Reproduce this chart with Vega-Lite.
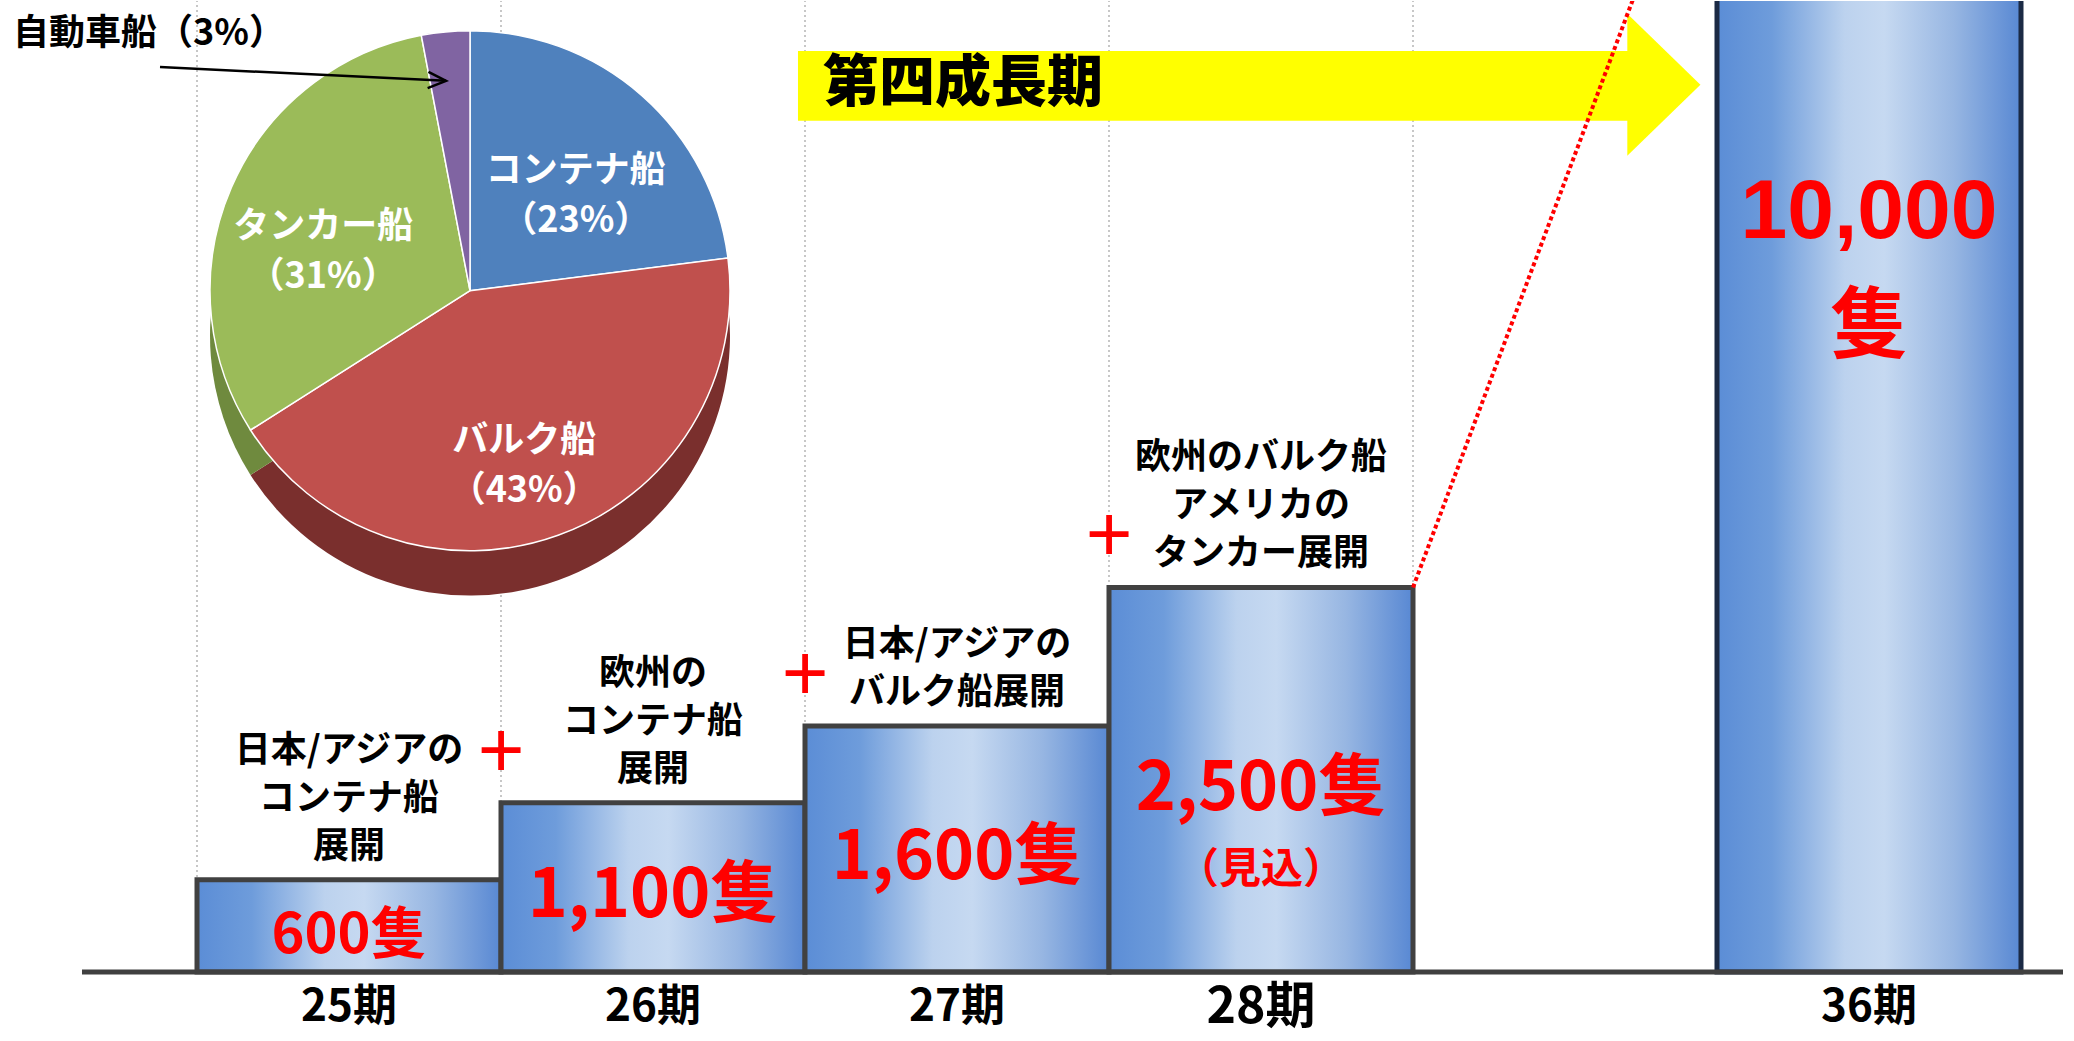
{
  "$schema": "https://vega.github.io/schema/vega-lite/v6.json",
  "width": 2074,
  "height": 1041,
  "autosize": {"type": "fit", "contains": "padding"},
  "padding": 0,
  "background": "#ffffff",
  "config": {"view": {"stroke": null}},
  "datasets": {
    "periods": [
      {"period": "25期", "ships": 600, "count": "600隻", "note": "日本/アジアの\nコンテナ船\n展開"},
      {"period": "26期", "ships": 1100, "count": "1,100隻", "note": "欧州の\nコンテナ船\n展開", "plus": "+"},
      {"period": "27期", "ships": 1600, "count": "1,600隻", "note": "日本/アジアの\nバルク船展開", "plus": "+"},
      {"period": "28期", "ships": 2500, "count": "2,500隻", "sub": "（見込）", "note": "欧州のバルク船\nアメリカの\nタンカー展開", "plus": "+"},
      {"period": "36期", "ships": 10000, "count": "10,000", "sub": "隻"}
    ],
    "fleet": [
      {"name": "コンテナ船", "share": 23, "idx": 1, "inner": "コンテナ船\n（23%）"},
      {"name": "バルク船", "share": 43, "idx": 2, "inner": "バルク船\n（43%）"},
      {"name": "タンカー船", "share": 31, "idx": 3, "inner": "タンカー船\n（31%）"},
      {"name": "自動車船", "share": 3, "idx": 4, "inner": "", "outer": "自動車船（3%）"}
    ]
  },
  "resolve": {"scale": {"x": "independent"}},
  "layer": [
    {
      "data": {"name": "periods"},
      "layer": [
        {
          "mark": {"type": "rule", "color": "#b5b5b5", "strokeDash": [2, 3], "strokeWidth": 1.5},
          "encoding": {
            "x": {"field": "period", "type": "nominal", "bandPosition": 0, "axis": null,
              "scale": {"type": "band", "domain": ["25期", "26期", "27期", "28期", "gap", "36期"], "paddingInner": 0, "paddingOuter": 0.4112, "align": 0.788}},
            "y": {"datum": 0, "type": "quantitative", "scale": {"domain": [-448, 6312], "nice": false, "zero": false}, "axis": null},
            "y2": {"datum": 6312}
          }
        },
        {
          "data": {"values": [{"period": "gap"}]},
          "mark": {"type": "rule", "color": "#b5b5b5", "strokeDash": [2, 3], "strokeWidth": 1.5},
          "encoding": {
            "x": {"field": "period", "type": "nominal", "bandPosition": 0, "axis": null,
              "scale": {"type": "band", "domain": ["25期", "26期", "27期", "28期", "gap", "36期"], "paddingInner": 0, "paddingOuter": 0.4112, "align": 0.788}},
            "y": {"datum": 0, "type": "quantitative", "scale": {"domain": [-448, 6312], "nice": false, "zero": false}, "axis": null},
            "y2": {"datum": 6312}
          }
        },
        {
          "mark": {
            "type": "bar", "clip": true, "strokeWidth": 5,
            "fill": {"gradient": "linear", "x1": 0, "y1": 0, "x2": 1, "y2": 0,
              "stops": [
                {"offset": 0, "color": "#5b8dd6"},
                {"offset": 0.18, "color": "#6e9cdb"},
                {"offset": 0.42, "color": "#bcd2ee"},
                {"offset": 0.55, "color": "#c6d9f1"},
                {"offset": 0.78, "color": "#97b6e2"},
                {"offset": 1, "color": "#5888d3"}
              ]}
          },
          "encoding": {
            "x": {"field": "period", "type": "nominal", "axis": null,
              "scale": {"type": "band", "domain": ["25期", "26期", "27期", "28期", "gap", "36期"], "paddingInner": 0, "paddingOuter": 0.4112, "align": 0.788}},
            "y": {"field": "ships", "type": "quantitative", "scale": {"domain": [-448, 6312], "nice": false, "zero": false}, "axis": null},
            "y2": {"datum": 0},
            "stroke": {"condition": {"test": "datum.period === '36期'", "value": "#1b2a45"}, "value": "#414141"}
          }
        },
        {
          "transform": [{"filter": "isValid(datum.note)"}],
          "mark": {"type": "text", "font": "Noto Sans CJK JP", "fontWeight": "bold", "fontSize": 36, "lineHeight": 48, "lineBreak": "\n", "baseline": "bottom", "color": "#000000",
            "dy": {"expr": "-14 - 48 * (length(split(datum.note, '\\n')) - 1)"}},
          "encoding": {
            "x": {"field": "period", "type": "nominal", "axis": null,
              "scale": {"type": "band", "domain": ["25期", "26期", "27期", "28期", "gap", "36期"], "paddingInner": 0, "paddingOuter": 0.4112, "align": 0.788}},
            "y": {"field": "ships", "type": "quantitative", "scale": {"domain": [-448, 6312], "nice": false, "zero": false}, "axis": null},
            "text": {"field": "note"}
          }
        },
        {
          "transform": [{"filter": "isValid(datum.plus)"}],
          "mark": {"type": "text", "font": "Liberation Sans", "fontSize": 80, "color": "#ff0000", "baseline": "middle", "dy": -50},
          "encoding": {
            "x": {"field": "period", "type": "nominal", "bandPosition": 0, "axis": null,
              "scale": {"type": "band", "domain": ["25期", "26期", "27期", "28期", "gap", "36期"], "paddingInner": 0, "paddingOuter": 0.4112, "align": 0.788}},
            "y": {"field": "ships", "type": "quantitative", "scale": {"domain": [-448, 6312], "nice": false, "zero": false}, "axis": null},
            "text": {"field": "plus"}
          }
        },
        {
          "transform": [{"filter": "datum.period !== '36期'"}, {"calculate": "datum.ships / 2", "as": "mid"}],
          "mark": {"type": "text", "font": "Noto Sans CJK JP", "fontWeight": "bold", "color": "#ff0000", "baseline": "middle", "dy": 10},
          "encoding": {
            "x": {"field": "period", "type": "nominal", "axis": null,
              "scale": {"type": "band", "domain": ["25期", "26期", "27期", "28期", "gap", "36期"], "paddingInner": 0, "paddingOuter": 0.4112, "align": 0.788}},
            "y": {"field": "mid", "type": "quantitative", "scale": {"domain": [-448, 6312], "nice": false, "zero": false}, "axis": null},
            "text": {"field": "count"},
            "size": {"condition": {"test": "datum.period === '25期'", "value": 56}, "value": 68}
          }
        },
        {
          "transform": [{"filter": "datum.period === '28期'"}, {"calculate": "datum.ships / 2", "as": "mid"}],
          "mark": {"type": "text", "font": "Noto Sans CJK JP", "fontWeight": "bold", "fontSize": 42, "color": "#ff0000", "baseline": "middle", "dy": 90},
          "encoding": {
            "x": {"field": "period", "type": "nominal", "axis": null,
              "scale": {"type": "band", "domain": ["25期", "26期", "27期", "28期", "gap", "36期"], "paddingInner": 0, "paddingOuter": 0.4112, "align": 0.788}},
            "y": {"field": "mid", "type": "quantitative", "scale": {"domain": [-448, 6312], "nice": false, "zero": false}, "axis": null},
            "text": {"field": "sub"}
          }
        },
        {
          "transform": [{"filter": "datum.period === '36期'"}],
          "mark": {"type": "text", "font": "Liberation Sans", "fontWeight": "bold", "fontSize": 84, "color": "#ff0000", "baseline": "middle"},
          "encoding": {
            "x": {"field": "period", "type": "nominal", "axis": null,
              "scale": {"type": "band", "domain": ["25期", "26期", "27期", "28期", "gap", "36期"], "paddingInner": 0, "paddingOuter": 0.4112, "align": 0.788}},
            "y": {"datum": 4935, "type": "quantitative", "scale": {"domain": [-448, 6312], "nice": false, "zero": false}, "axis": null},
            "text": {"field": "count"}
          }
        },
        {
          "transform": [{"filter": "datum.period === '36期'"}],
          "mark": {"type": "text", "font": "Noto Sans CJK JP", "fontWeight": "bold", "fontSize": 78, "color": "#ff0000", "baseline": "middle"},
          "encoding": {
            "x": {"field": "period", "type": "nominal", "axis": null,
              "scale": {"type": "band", "domain": ["25期", "26期", "27期", "28期", "gap", "36期"], "paddingInner": 0, "paddingOuter": 0.4112, "align": 0.788}},
            "y": {"datum": 4180, "type": "quantitative", "scale": {"domain": [-448, 6312], "nice": false, "zero": false}, "axis": null},
            "text": {"field": "sub"}
          }
        },
        {
          "mark": {"type": "text", "font": "Noto Sans CJK JP", "fontWeight": "bold", "color": "#000000", "baseline": "middle"},
          "encoding": {
            "x": {"field": "period", "type": "nominal", "axis": null,
              "scale": {"type": "band", "domain": ["25期", "26期", "27期", "28期", "gap", "36期"], "paddingInner": 0, "paddingOuter": 0.4112, "align": 0.788}},
            "y": {"datum": -235, "type": "quantitative", "scale": {"domain": [-448, 6312], "nice": false, "zero": false}, "axis": null},
            "text": {"field": "period"},
            "size": {"condition": {"test": "datum.period === '28期'", "value": 50}, "value": 44}
          }
        }
      ]
    },
    {
      "layer": [
        {
          "data": {"values": [{}]},
          "mark": {"type": "rule", "color": "#404040", "strokeWidth": 5},
          "encoding": {
            "x": {"datum": -0.373, "type": "quantitative", "scale": {"domain": [-0.6436, 6.2013], "nice": false, "zero": false}, "axis": null},
            "x2": {"datum": 6.165},
            "y": {"datum": 0, "type": "quantitative", "scale": {"domain": [-448, 6312], "nice": false, "zero": false}, "axis": null}
          }
        },
        {
          "data": {"name": "fleet"},
          "mark": {"type": "arc", "outerRadius": 260},
          "encoding": {
            "theta": {"field": "share", "type": "quantitative", "stack": true},
            "order": {"field": "idx", "type": "quantitative"},
            "fill": {"field": "name", "type": "nominal", "legend": null,
              "scale": {"domain": ["コンテナ船", "バルク船", "タンカー船", "自動車船"], "range": ["#3a5f8c", "#7a2f2d", "#6f8a3e", "#5b4775"]}},
            "x": {"datum": 0.9076, "type": "quantitative", "scale": {"domain": [-0.6436, 6.2013], "nice": false, "zero": false}, "axis": null},
            "y": {"datum": 4137, "type": "quantitative", "scale": {"domain": [-448, 6312], "nice": false, "zero": false}, "axis": null}
          }
        },
        {
          "data": {"name": "fleet"},
          "mark": {"type": "arc", "outerRadius": 260, "stroke": "#ffffff", "strokeWidth": 1.5},
          "encoding": {
            "theta": {"field": "share", "type": "quantitative", "stack": true},
            "order": {"field": "idx", "type": "quantitative"},
            "color": {"field": "name", "type": "nominal", "legend": null,
              "scale": {"domain": ["コンテナ船", "バルク船", "タンカー船", "自動車船"], "range": ["#4f81bd", "#c0504d", "#9bbb59", "#8064a2"]}},
            "x": {"datum": 0.9076, "type": "quantitative", "scale": {"domain": [-0.6436, 6.2013], "nice": false, "zero": false}, "axis": null},
            "y": {"datum": 4429, "type": "quantitative", "scale": {"domain": [-448, 6312], "nice": false, "zero": false}, "axis": null}
          }
        },
        {
          "data": {"name": "fleet"},
          "mark": {"type": "text", "radius": 160, "font": "Noto Sans CJK JP", "fontWeight": "bold", "fontSize": 36, "lineHeight": 50, "lineBreak": "\n", "color": "#ffffff", "baseline": "middle"},
          "encoding": {
            "theta": {"field": "share", "type": "quantitative", "stack": true},
            "order": {"field": "idx", "type": "quantitative"},
            "text": {"field": "inner"},
            "x": {"datum": 0.9076, "type": "quantitative", "scale": {"domain": [-0.6436, 6.2013], "nice": false, "zero": false}, "axis": null},
            "y": {"datum": 4429, "type": "quantitative", "scale": {"domain": [-448, 6312], "nice": false, "zero": false}, "axis": null}
          }
        },
        {
          "data": {"name": "fleet"},
          "transform": [{"filter": "isValid(datum.outer)"}],
          "mark": {"type": "text", "align": "left", "baseline": "middle", "font": "Noto Sans CJK JP", "fontWeight": "bold", "fontSize": 36, "color": "#000000"},
          "encoding": {
            "text": {"field": "outer"},
            "x": {"datum": -0.6007, "type": "quantitative", "scale": {"domain": [-0.6436, 6.2013], "nice": false, "zero": false}, "axis": null},
            "y": {"datum": 6098, "type": "quantitative", "scale": {"domain": [-448, 6312], "nice": false, "zero": false}, "axis": null}
          }
        },
        {
          "data": {"values": [{}]},
          "mark": {"type": "rule", "color": "#000000", "strokeWidth": 2.5},
          "encoding": {
            "x": {"datum": -0.1155, "type": "quantitative", "scale": {"domain": [-0.6436, 6.2013], "nice": false, "zero": false}, "axis": null},
            "x2": {"datum": 0.8284},
            "y": {"datum": 5883, "type": "quantitative", "scale": {"domain": [-448, 6312], "nice": false, "zero": false}, "axis": null},
            "y2": {"datum": 5793}
          }
        },
        {
          "data": {"values": [{}]},
          "mark": {"type": "point", "shape": "M -2 -0.9 L 0 0 L -2 0.9", "filled": false, "size": 324, "color": "#000000", "strokeWidth": 2.5, "opacity": 1, "angle": 2.8},
          "encoding": {
            "x": {"datum": 0.8284, "type": "quantitative", "scale": {"domain": [-0.6436, 6.2013], "nice": false, "zero": false}, "axis": null},
            "y": {"datum": 5793, "type": "quantitative", "scale": {"domain": [-448, 6312], "nice": false, "zero": false}, "axis": null}
          }
        },
        {
          "data": {"values": [{}]},
          "mark": {"type": "rect", "color": "#ffff00"},
          "encoding": {
            "x": {"datum": 1.99, "type": "quantitative", "scale": {"domain": [-0.6436, 6.2013], "nice": false, "zero": false}, "axis": null},
            "x2": {"datum": 4.736},
            "y": {"datum": 5987, "type": "quantitative", "scale": {"domain": [-448, 6312], "nice": false, "zero": false}, "axis": null},
            "y2": {"datum": 5533}
          }
        },
        {
          "data": {"values": [{}]},
          "mark": {"type": "point", "shape": "M -0.51 -1 L 0.52 0 L -0.51 1 Z", "filled": true, "size": 20164, "color": "#ffff00", "opacity": 1, "strokeWidth": 0},
          "encoding": {
            "x": {"datum": 4.8465, "type": "quantitative", "scale": {"domain": [-0.6436, 6.2013], "nice": false, "zero": false}, "axis": null},
            "y": {"datum": 5767, "type": "quantitative", "scale": {"domain": [-448, 6312], "nice": false, "zero": false}, "axis": null}
          }
        },
        {
          "data": {"values": [{"phase": "第四成長期"}]},
          "mark": {"type": "text", "align": "left", "baseline": "middle", "font": "Noto Sans CJK JP", "fontWeight": 900, "fontSize": 56, "color": "#000000"},
          "encoding": {
            "text": {"field": "phase"},
            "x": {"datum": 2.0726, "type": "quantitative", "scale": {"domain": [-0.6436, 6.2013], "nice": false, "zero": false}, "axis": null},
            "y": {"datum": 5773, "type": "quantitative", "scale": {"domain": [-448, 6312], "nice": false, "zero": false}, "axis": null}
          }
        },
        {
          "data": {"values": [{}]},
          "mark": {"type": "rule", "color": "#ff0000", "strokeWidth": 4, "strokeDash": [4, 3], "clip": true},
          "encoding": {
            "x": {"datum": 4.0198, "type": "quantitative", "scale": {"domain": [-0.6436, 6.2013], "nice": false, "zero": false}, "axis": null},
            "x2": {"datum": 5.444},
            "y": {"datum": 2500, "type": "quantitative", "scale": {"domain": [-448, 6312], "nice": false, "zero": false}, "axis": null},
            "y2": {"datum": 10000}
          }
        }
      ]
    }
  ]
}
